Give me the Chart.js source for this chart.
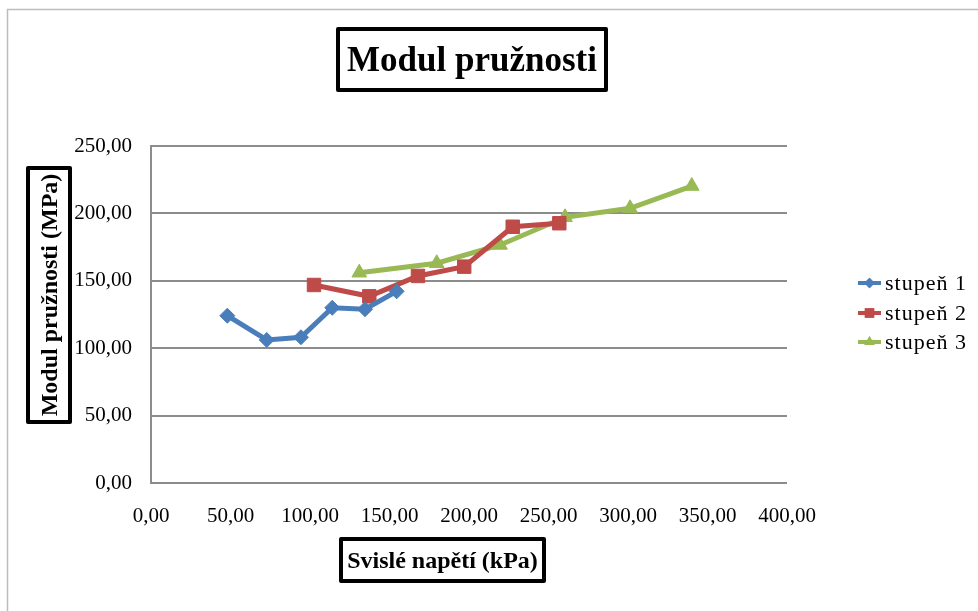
<!DOCTYPE html>
<html>
<head>
<meta charset="utf-8">
<title>Modul pružnosti</title>
<script src="https://cdn.jsdelivr.net/npm/chart.js@4"></script>
<style>
    html, body { margin: 0; padding: 0; background: #ffffff; }
    canvas { display: block; }
</style>
</head>
<body>
<canvas id="chart" width="978" height="611"></canvas>
<script>
// Svislé napětí (kPa) a modul pružnosti (MPa) pro jednotlivé stupně
const seriesNames = ["stupeň 1", "stupeň 2", "stupeň 3"];
const seriesColors = ["#4A7EBB", "#BE4B48", "#98B954"];
const seriesMarkers = ["rectRot", "rect", "triangle"];
const markerRadius = [7.5, 9.5, 8.5];

const napeti1 = [48.0, 72.8, 94.3, 114.0, 134.6, 154.5];
const modul1 = [124.1, 106.1, 108.1, 130.0, 128.9, 142.2];

const napeti2 = [102.5, 137.3, 167.9, 197.0, 227.5, 256.8];
const modul2 = [146.9, 138.5, 153.6, 160.5, 190.1, 192.7];

const napeti3 = [131.0, 179.7, 219.5, 260.4, 301.3, 340.1];
const modul3 = [156.0, 163.0, 176.6, 197.1, 203.8, 220.3];

const xTicks = [0, 50, 100, 150, 200, 250, 300, 350, 400];
const yTicks = [0, 50, 100, 150, 200, 250];

const chartTitle = "Modul pružnosti";
const xTitle = "Svislé napětí (kPa)";
const yTitle = "Modul pružnosti (MPa)";

const serif = "'Liberation Serif', 'DejaVu Serif', serif";
const fmt = v => v.toFixed(2).replace(".", ",");

function toPoints(xs, ys) {
    return xs.map((x, i) => ({ x: x, y: ys[i] }));
}

const allX = [napeti1, napeti2, napeti3];
const allY = [modul1, modul2, modul3];

let datasets = seriesNames.map((name, i) => ({
    label: name,
    data: toPoints(allX[i], allY[i]),
    borderColor: seriesColors[i],
    backgroundColor: seriesColors[i],
    borderWidth: 5,
    pointStyle: seriesMarkers[i],
    pointRadius: markerRadius[i],
    pointBorderWidth: 1,
    pointBorderColor: seriesColors[i],
    pointBackgroundColor: seriesColors[i],
    tension: 0,
    fill: false
}));

// boxed text (title and axis titles have a thick black frame)
function boxedText(ctx, text, cx, cy, w, h, font, rotate) {
    ctx.save();
    ctx.translate(cx, cy);
    if (rotate) ctx.rotate(-Math.PI / 2);
    ctx.lineWidth = 4;
    ctx.strokeStyle = "#000000";
    ctx.lineJoin = "round";
    ctx.strokeRect(-w / 2, -h / 2, w, h);
    ctx.font = font;
    ctx.fillStyle = "#000000";
    ctx.textAlign = "center";
    ctx.textBaseline = "middle";
    ctx.fillText(text, 0, 2);
    ctx.restore();
}

const decorPlugin = {
    id: "decor",
    beforeDraw(chart) {
        let ctx = chart.ctx;
        ctx.save();
        ctx.fillStyle = "#ffffff";
        ctx.fillRect(0, 0, chart.width, chart.height);
        // outer chart frame
        ctx.strokeStyle = "#bcbcbc";
        ctx.lineWidth = 1.5;
        ctx.strokeRect(7.5, 9.5, 1000, 700);
        ctx.restore();
    },
    afterDraw(chart) {
        let ctx = chart.ctx;
        boxedText(ctx, chartTitle, 472, 59.5, 268, 61, "bold 35px " + serif, false);
        boxedText(ctx, xTitle, 442.5, 560, 203, 42, "bold 24px " + serif, false);
        boxedText(ctx, yTitle, 49, 295, 254, 42, "bold 24px " + serif, true);

        // legend on the right
        let rows = [283, 313, 342];
        ctx.save();
        datasets.forEach((ds, i) => {
            let y = rows[i];
            ctx.strokeStyle = ds.borderColor;
            ctx.lineWidth = 4;
            ctx.beginPath();
            ctx.moveTo(858, y);
            ctx.lineTo(881, y);
            ctx.stroke();
            ctx.fillStyle = ds.borderColor;
            Chart.helpers.drawPoint(ctx, {
                pointStyle: ds.pointStyle,
                radius: ds.pointRadius * 0.7,
                borderWidth: 0,
                rotation: 0
            }, 869.5, y);
            ctx.fill();

            ctx.fillStyle = "#000000";
            ctx.font = "22px " + serif;
            ctx.letterSpacing = "1px";
            ctx.textAlign = "left";
            ctx.textBaseline = "middle";
            ctx.fillText(ds.label, 885, y + 1);
        });
        ctx.restore();
    }
};

new Chart(document.getElementById("chart"), {
    type: "line",
    data: { datasets },
    options: {
        responsive: false,
        animation: false,
        devicePixelRatio: 1,
        layout: { padding: { top: 146, right: 191, left: 0, bottom: 0 } },
        plugins: {
            legend: { display: false },
            title: { display: false },
            tooltip: { enabled: false }
        },
        scales: {
            x: {
                type: "linear",
                min: xTicks[0],
                max: xTicks[xTicks.length - 1],
                afterBuildTicks: s => { s.ticks = xTicks.map(v => ({ value: v })); },
                afterFit: s => { s.height = 128; },
                grid: { display: false, drawTicks: false },
                border: { display: false },
                ticks: {
                    padding: 21,
                    color: "#000000",
                    font: { family: serif, size: 21 },
                    maxRotation: 0,
                    callback: v => fmt(v)
                }
            },
            y: {
                min: yTicks[0],
                max: yTicks[yTicks.length - 1],
                afterBuildTicks: s => { s.ticks = yTicks.map(v => ({ value: v })); },
                afterFit: s => { s.width = 151; },
                grid: { color: "#8c8c8c", lineWidth: 2, drawTicks: false },
                border: { display: true, color: "#8c8c8c", width: 2 },
                ticks: {
                    padding: 19,
                    color: "#000000",
                    font: { family: serif, size: 21 },
                    callback: v => fmt(v)
                }
            }
        }
    },
    plugins: [decorPlugin]
});
</script>
</body>
</html>
